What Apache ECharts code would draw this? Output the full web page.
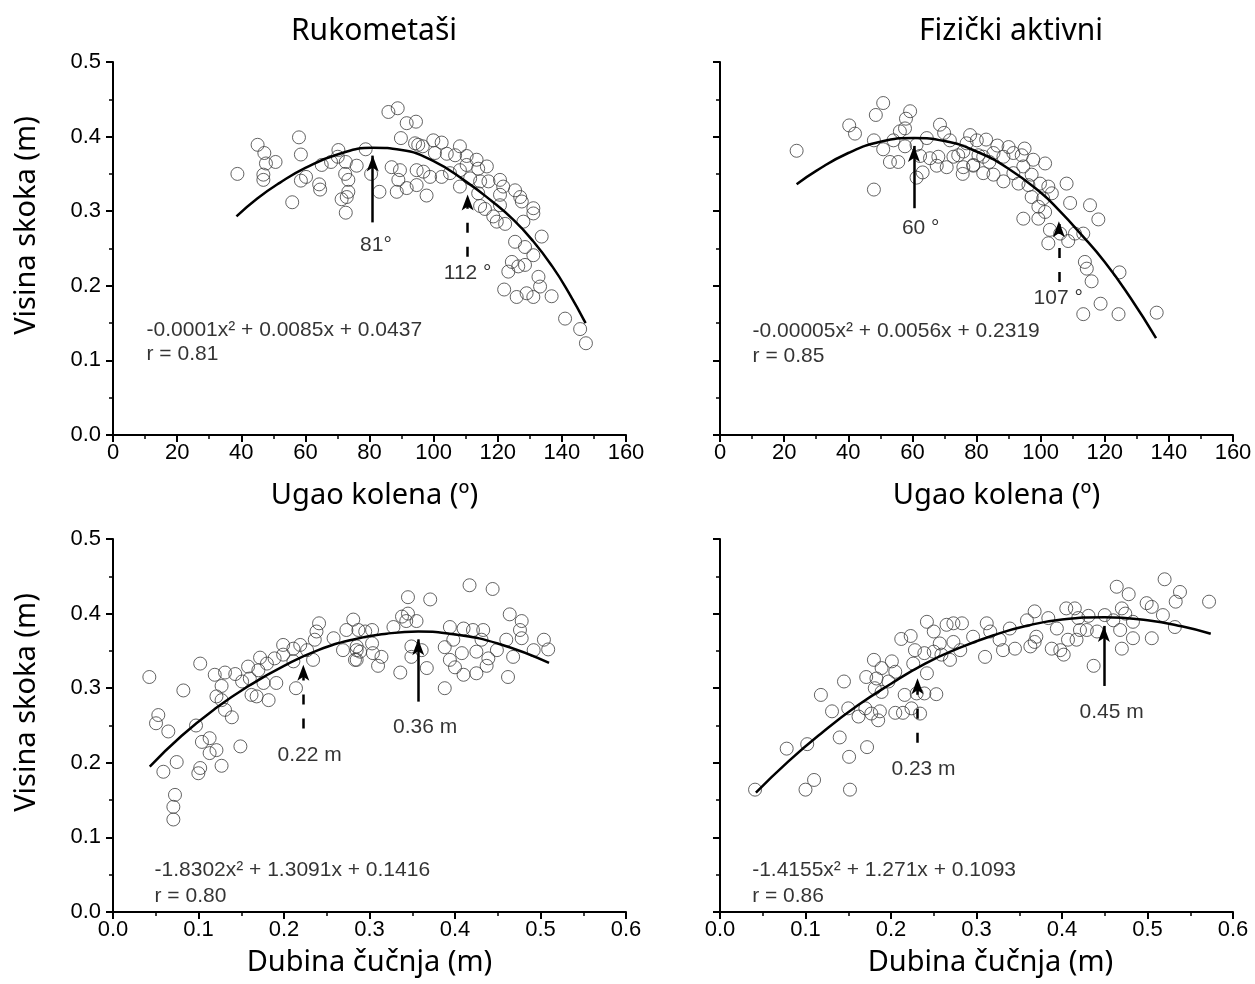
<!DOCTYPE html>
<html><head><meta charset="utf-8">
<script src="https://cdn.jsdelivr.net/npm/echarts@6/dist/echarts.min.js"></script>
<style>html,body{margin:0;padding:0;background:#fff}#c{width:1255px;height:984px}</style>
</head><body><div id="c"></div>
<script>
// ---------- DATA ----------
const titles = ['Rukometaši', 'Fizički aktivni'];
const yName = 'Visina skoka (m)';
const xNameKnee = 'Ugao kolena (º)';
const xNameDepth = 'Dubina čučnja (m)';
const kneeAxis = [0, 160, 20];     // min, max, interval
const depthAxis = [0, 0.6, 0.1];
const heightAxis = [0, 0.5, 0.1];

// Panel 1: Rukometaši – knee angle
const p1Points = [[38.8,0.350],[45.1,0.389],[47.2,0.378],[47.7,0.364],[50.7,0.366],[46.9,0.349],[46.9,0.342],[58.0,0.399],[58.6,0.376],[55.9,0.312],[58.6,0.341],[60.2,0.346],[64.3,0.336],[64.6,0.329],[65.1,0.362],[68.0,0.366],[70.3,0.382],[70.1,0.373],[72.6,0.366],[72.4,0.350],[73.4,0.342],[73.4,0.326],[72.9,0.319],[71.3,0.316],[72.6,0.298],[76.0,0.361],[78.8,0.383],[80.5,0.350],[83.1,0.326],
[85.9,0.433],[88.8,0.438],[91.6,0.418],[94.5,0.420],[89.8,0.398],[95.2,0.389],[94.2,0.391],[99.9,0.395],[102.5,0.392],[108.2,0.387],[96.6,0.387],[100.4,0.378],[104.1,0.377],[106.7,0.375],[110.3,0.374],[113.4,0.369],[116.6,0.360],[86.9,0.359],[89.5,0.355],[94.7,0.355],[96.8,0.353],[98.9,0.346],[102.5,0.346],[105.1,0.351],[108.2,0.355],[110.3,0.362],[113.9,0.357],[111.4,0.344],[114.5,0.340],[117.1,0.340],[120.7,0.342],[121.7,0.333],[108.2,0.333],[89.0,0.342],[91.6,0.331],[88.5,0.326],[97.8,0.321],[94.7,0.335],[113.9,0.324],[114.5,0.307],[116.0,0.303],[120.7,0.322],[120.7,0.308],[125.4,0.328],[127.0,0.319],[127.5,0.313],[131.1,0.304],[131.1,0.297],[118.6,0.293],[119.7,0.286],[122.3,0.283],[128.0,0.286],[133.7,0.266],[125.4,0.259],[128.5,0.252],[124.4,0.232],[123.3,0.219],[126.4,0.226],[128.5,0.228],[131.1,0.241],[132.7,0.212],[133.2,0.199],[125.9,0.185],[129.0,0.190],[131.1,0.185],[136.8,0.186],[122.0,0.195],[141.0,0.156],[145.7,0.142],[147.5,0.123]];
const p1Fit = [[38.5,0.293],[45,0.317],[52,0.338],[60,0.358],[70,0.376],[81,0.385],[90,0.382],[100,0.367],[110,0.340],[118,0.314],[125,0.288],[131,0.260],[137,0.226],[142,0.192],[147.4,0.150]];
const p1Arrows = [[81, 0.285, 0.385, 'solid'], [110.6, 0.239, 0.333, 'dashed']];
const p1Labels = [['81°', 82, 0.255], ['112 °', 110.6, 0.217]];
const p1Eq = ['-0.0001x² + 0.0085x + 0.0437', 'r = 0.81'];
const p1EqPos = [10.3, 0.140, 0.108];

// Panel 2: Fizički aktivni – knee angle
const p2Points = [[23.9,0.381],[50.9,0.445],[48.6,0.429],[59.3,0.434],[58.0,0.424],[40.3,0.415],[42.1,0.404],[48.0,0.395],[50.9,0.383],[53.0,0.366],[55.6,0.366],[48.0,0.329],[56.1,0.407],[57.7,0.411],[57.7,0.387],[54.1,0.395],[61.3,0.389],[62.4,0.374],[63.2,0.352],[61.3,0.345],[64.5,0.398],[68.6,0.416],[69.9,0.405],[71.7,0.395],[65.5,0.371],[68.1,0.373],[67.6,0.361],[70.7,0.359],[72.8,0.373],[75.9,0.380],[76.9,0.391],[78.0,0.402],[80.1,0.395],[75.9,0.359],[75.7,0.350],[79.0,0.361],[80.6,0.375],[74.3,0.375],
[79.0,0.362],[82.1,0.373],[85.3,0.378],[88.4,0.373],[91.5,0.378],[94.1,0.375],[97.7,0.369],[101.4,0.364],[82.1,0.351],[85.3,0.349],[88.4,0.340],[91.5,0.351],[94.6,0.360],[97.2,0.349],[93.1,0.337],[96.2,0.335],[99.8,0.337],[102.4,0.333],[97.2,0.319],[100.8,0.317],[103.5,0.324],[99.3,0.306],[101.4,0.299],[108.1,0.337],[109.2,0.311],[115.4,0.308],[118.0,0.289],[94.6,0.290],[99.3,0.290],[102.9,0.275],[102.4,0.257],[106.1,0.270],[108.6,0.260],[110.7,0.270],[113.3,0.270],[113.8,0.232],[114.4,0.223],[115.9,0.206],[124.6,0.218],[118.7,0.176],[113.3,0.162],[124.3,0.162],[136.2,0.164],
[83.0,0.396],[86.5,0.388],[90.0,0.386],[95.0,0.384],[84.0,0.366]];
const p2Fit = [[23.9,0.336],[30,0.354],[40,0.378],[50,0.393],[60.5,0.398],[70,0.394],[80,0.380],[90,0.357],[100,0.325],[106,0.300],[112,0.272],[120,0.232],[128,0.184],[136,0.130]];
const p2Arrows = [[60.5, 0.304, 0.398, 'solid'], [105.7, 0.205, 0.297, 'dashed']];
const p2Labels = [['60 °', 62.6, 0.277], ['107 °', 105.5, 0.183]];
const p2Eq = ['-0.00005x² + 0.0056x + 0.2319', 'r = 0.85'];
const p2EqPos = [10.0, 0.139, 0.106];

// Panel 3: Rukometaši – squat depth
const p3Points = [[0.0425,0.315],[0.102,0.333],[0.0823,0.297],[0.0530,0.264],[0.0503,0.253],[0.0647,0.242],[0.0971,0.250],[0.104,0.228],[0.113,0.233],[0.121,0.217],[0.113,0.213],[0.0745,0.201],[0.0589,0.188],[0.102,0.193],[0.0998,0.186],[0.127,0.196],[0.149,0.222],[0.0725,0.157],[0.0706,0.141],[0.0706,0.124],[0.119,0.318],[0.131,0.321],[0.143,0.319],[0.127,0.303],[0.121,0.289],[0.127,0.284],[0.131,0.271],[0.139,0.261],[0.158,0.329],[0.172,0.341],[0.180,0.333],[0.170,0.324],[0.160,0.313],[0.151,0.309],[0.176,0.307],[0.191,0.307],[0.182,0.284],[0.162,0.291],[0.168,0.289],[0.189,0.340],[0.199,0.358],[0.199,0.345],[0.211,0.353],[0.219,0.358],[0.211,0.336],[0.227,0.351],[0.236,0.365],[0.238,0.376],[0.241,0.387],[0.234,0.338],[0.214,0.300],[0.258,0.367],[0.269,0.351],[0.273,0.378],[0.281,0.392],[0.285,0.351],[0.285,0.338],
[0.287,0.378],[0.295,0.376],[0.303,0.378],[0.285,0.356],[0.283,0.338],[0.303,0.360],[0.304,0.347],[0.314,0.342],[0.310,0.330],[0.289,0.349],[0.328,0.382],[0.338,0.396],[0.345,0.400],[0.343,0.390],[0.355,0.390],[0.345,0.422],[0.371,0.419],[0.349,0.356],[0.349,0.342],[0.361,0.351],[0.367,0.327],[0.336,0.321],[0.388,0.300],[0.388,0.355],[0.394,0.382],[0.398,0.365],[0.394,0.338],[0.400,0.328],[0.408,0.347],[0.410,0.318],[0.410,0.380],[0.421,0.378],[0.433,0.378],[0.431,0.365],[0.425,0.349],[0.439,0.340],[0.437,0.330],[0.425,0.320],[0.449,0.351],[0.460,0.365],[0.468,0.342],[0.462,0.315],[0.417,0.438],[0.444,0.433],[0.464,0.399],[0.478,0.390],[0.476,0.378],[0.478,0.367],[0.492,0.351],[0.504,0.365],[0.509,0.352]];
const p3Fit = [[0.043,0.195],[0.08,0.236],[0.12,0.273],[0.16,0.304],[0.20,0.330],[0.24,0.351],[0.28,0.365],[0.32,0.373],[0.357,0.376],[0.40,0.372],[0.45,0.360],[0.51,0.334]];
const p3Arrows = [[0.357, 0.282, 0.376, 'solid'], [0.2226, 0.246, 0.342, 'dashed']];
const p3Labels = [['0.22 m', 0.230, 0.210], ['0.36 m', 0.365, 0.248]];
const p3Eq = ['-1.8302x² + 1.3091x + 0.1416', 'r = 0.80'];
const p3EqPos = [0.048, 0.056, 0.021];

// Panel 4: Fizički aktivni – squat depth
const p4Points = [[0.041,0.164],[0.078,0.219],[0.102,0.225],[0.110,0.177],[0.100,0.164],[0.152,0.164],[0.140,0.234],[0.151,0.208],[0.172,0.221],[0.118,0.291],[0.131,0.269],[0.145,0.309],[0.150,0.273],[0.162,0.262],[0.170,0.273],[0.177,0.266],[0.185,0.257],[0.187,0.269],[0.171,0.315],[0.180,0.338],[0.189,0.327],[0.183,0.313],[0.181,0.300],[0.189,0.295],[0.197,0.309],[0.201,0.336],[0.205,0.322],[0.212,0.366],[0.223,0.370],[0.228,0.351],[0.239,0.347],[0.242,0.389],[0.250,0.376],[0.257,0.360],[0.265,0.385],[0.273,0.387],[0.283,0.387],[0.273,0.362],[0.281,0.351],[0.269,0.338],[0.259,0.345],[0.250,0.349],[0.226,0.333],[0.242,0.320],[0.216,0.291],[0.230,0.293],[0.239,0.293],[0.253,0.292],[0.205,0.267],[0.214,0.267],[0.224,0.273],[0.234,0.266],
[0.296,0.369],[0.312,0.387],[0.310,0.342],[0.316,0.376],[0.327,0.365],[0.331,0.351],[0.339,0.380],[0.345,0.353],[0.359,0.391],[0.368,0.403],[0.370,0.369],[0.363,0.356],[0.368,0.362],[0.384,0.394],[0.388,0.353],[0.398,0.351],[0.402,0.345],[0.394,0.380],[0.405,0.407],[0.415,0.407],[0.407,0.365],[0.417,0.365],[0.419,0.394],[0.421,0.378],[0.431,0.397],[0.429,0.378],[0.437,0.330],[0.441,0.376],[0.450,0.398],[0.460,0.391],[0.464,0.436],[0.478,0.426],[0.470,0.407],[0.474,0.400],[0.468,0.378],[0.470,0.353],[0.483,0.389],[0.483,0.367],[0.499,0.414],[0.505,0.409],[0.505,0.367],[0.518,0.398],[0.520,0.446],[0.538,0.429],[0.533,0.416],[0.532,0.382],[0.572,0.416]];
const p4Fit = [[0.042,0.160],[0.08,0.202],[0.12,0.241],[0.16,0.276],[0.20,0.306],[0.24,0.333],[0.28,0.354],[0.32,0.371],[0.36,0.384],[0.40,0.392],[0.45,0.395],[0.50,0.391],[0.54,0.383],[0.574,0.373]];
const p4Arrows = [[0.449, 0.303, 0.394, 'solid'], [0.231, 0.227, 0.324, 'dashed']];
const p4Labels = [['0.23 m', 0.238, 0.191], ['0.45 m', 0.458, 0.268]];
const p4Eq = ['-1.4155x² + 1.271x + 0.1093', 'r = 0.86'];
const p4EqPos = [0.037, 0.056, 0.021];

// ---------- LAYOUT ----------
const grids = [
  {left: 113, top: 62, width: 513, height: 373},
  {left: 720, top: 62, width: 513, height: 373},
  {left: 113, top: 539, width: 513, height: 373},
  {left: 720, top: 539, width: 513, height: 373}
];
const tickFont = '"Liberation Sans", Arial, sans-serif';
const nameFont = '"Noto Sans", sans-serif';
const headH = 0.0105; // half arrow-head height in y units (~8px)

function axisBase() {
  return {
    axisLine: {show: true, onZero: false, lineStyle: {color: '#000', width: 2}},
    axisTick: {show: true, inside: false, length: 7, lineStyle: {color: '#000', width: 2}},
    minorTick: {show: true, splitNumber: 2, length: 4, lineStyle: {color: '#000', width: 1.5}},
    splitLine: {show: false}, minorSplitLine: {show: false}
  };
}

const panels = [
  {pts: p1Points, fit: p1Fit, arrows: p1Arrows, labels: p1Labels, eq: p1Eq, eqPos: p1EqPos, ax: kneeAxis, xName: xNameKnee, dec: 0, yLab: true, xGap: 46, xShift: 10},
  {pts: p2Points, fit: p2Fit, arrows: p2Arrows, labels: p2Labels, eq: p2Eq, eqPos: p2EqPos, ax: kneeAxis, xName: xNameKnee, dec: 0, yLab: false, xGap: 46, xShift: 40},
  {pts: p3Points, fit: p3Fit, arrows: p3Arrows, labels: p3Labels, eq: p3Eq, eqPos: p3EqPos, ax: depthAxis, xName: xNameDepth, dec: 1, yLab: true, xGap: 36, xShift: 0},
  {pts: p4Points, fit: p4Fit, arrows: p4Arrows, labels: p4Labels, eq: p4Eq, eqPos: p4EqPos, ax: depthAxis, xName: xNameDepth, dec: 1, yLab: false, xGap: 36, xShift: 28}
];

const xAxis = [], yAxis = [], series = [];
panels.forEach((p, i) => {
  xAxis.push(Object.assign(axisBase(), {
    type: 'value', gridIndex: i, min: p.ax[0], max: p.ax[1], interval: p.ax[2],
    axisLabel: {color: '#000', fontSize: 22, fontFamily: tickFont, margin: 7,
      formatter: v => v.toFixed(p.dec)},
    name: p.xName, nameLocation: 'middle', nameGap: p.xGap,
    nameTextStyle: {color: '#000', fontSize: 29, fontFamily: nameFont, padding: [0, 0, 0, p.xShift]}
  }));
  yAxis.push(Object.assign(axisBase(), {
    type: 'value', gridIndex: i, min: heightAxis[0], max: heightAxis[1], interval: heightAxis[2],
    axisLabel: {show: p.yLab, color: '#000', fontSize: 22, fontFamily: tickFont, margin: 12,
      formatter: v => v.toFixed(1)},
    name: p.yLab ? yName : '', nameLocation: 'middle', nameGap: 72,
    nameTextStyle: {color: '#000', fontSize: 29, fontFamily: nameFont, padding: [0, 0, 0, 46]}
  }));
  series.push({
    type: 'scatter', xAxisIndex: i, yAxisIndex: i, data: p.pts, symbol: 'circle', symbolSize: 13,
    itemStyle: {color: 'rgba(255,255,255,0)', borderColor: '#3c3c3c', borderWidth: 1},
    silent: true, z: 2
  });
  series.push({
    type: 'line', xAxisIndex: i, yAxisIndex: i, data: p.fit, smooth: true, showSymbol: false,
    lineStyle: {color: '#000', width: 2.5}, silent: true, z: 3,
    markLine: {
      silent: true, animation: false, symbol: ['none', 'arrow'], symbolSize: [9, 16],
      label: {show: false},
      lineStyle: {color: '#000', width: 2.5},
      data: p.arrows.map(a => [
        {coord: [a[0], a[1]], lineStyle: {type: a[3] === 'dashed' ? [10, 14] : 'solid', color: '#000', width: 2.5}},
        {coord: [a[0], a[2] - headH]}
      ])
    }
  });
  const txt = p.labels.map(l => ({value: [l[1], l[2]], name: l[0],
    label: {position: 'inside'}}));
  txt.push({value: [p.eqPos[0], p.eqPos[1]], name: p.eq[0], label: {position: 'right'}});
  txt.push({value: [p.eqPos[0], p.eqPos[2]], name: p.eq[1], label: {position: 'right'}});
  series.push({
    type: 'scatter', xAxisIndex: i, yAxisIndex: i, data: txt, symbolSize: 1,
    itemStyle: {color: 'rgba(0,0,0,0)'}, silent: true, z: 4,
    label: {show: true, formatter: '{b}', color: '#000', fontSize: 21, fontFamily: tickFont, distance: 0}
  });
});

const chart = echarts.init(document.getElementById('c'), null, {renderer: 'canvas'});
chart.setOption({
  animation: false,
  backgroundColor: '#fff',
  title: [
    {text: titles[0], left: 369, top: 11, textAlign: 'center',
     textStyle: {color: '#000', fontSize: 30, fontWeight: 'normal', fontFamily: nameFont}},
    {text: titles[1], left: 1006, top: 11, textAlign: 'center',
     textStyle: {color: '#000', fontSize: 30, fontWeight: 'normal', fontFamily: nameFont}}
  ],
  grid: grids,
  xAxis: xAxis,
  yAxis: yAxis,
  series: series
});
</script></body></html>
